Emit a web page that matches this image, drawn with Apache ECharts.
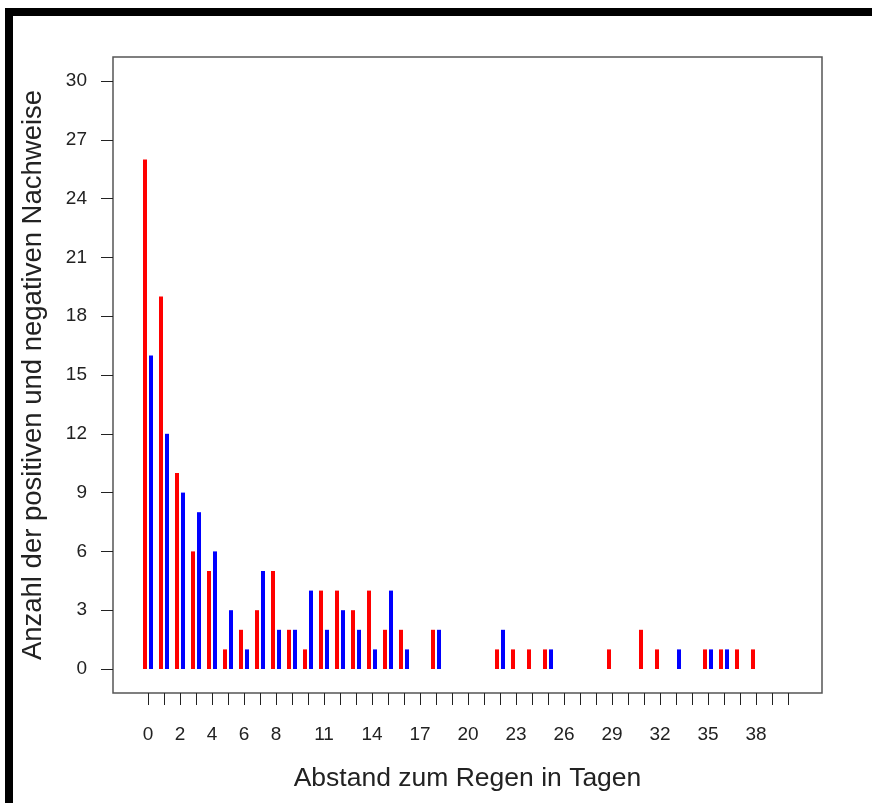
<!DOCTYPE html>
<html>
<head>
<meta charset="utf-8">
<script src="https://cdn.jsdelivr.net/npm/echarts@6/dist/echarts.min.js"></script>
<style>
html,body{margin:0;padding:0;background:#fff;}
#chart{width:872px;height:803px;}
</style>
</head>
<body>
<div id="chart"></div>
<script>
// Days 0..40
const days = Array.from({length: 41}, (_, i) => i);
// Red series (positive)
const redValues = [26,19,10,6,5,1,2,3,5,2,1,4,4,3,4,2,2,0,2,0,0,0,1,1,1,1,0,0,0,1,0,2,1,0,0,1,1,1,1,0,0];
// Blue series (negative)
const blueValues = [16,12,9,8,6,3,1,5,2,2,4,2,3,2,1,4,1,0,2,0,0,0,2,0,0,1,0,0,0,0,0,0,0,1,0,1,1,0,0,0,0];
const xTickLabels = [0,2,4,6,8,11,14,17,20,23,26,29,32,35,38];
const yTicks = [0,3,6,9,12,15,18,21,24,27,30];

const font = 'Liberation Sans, Arial, sans-serif';
const chart = echarts.init(document.getElementById('chart'), null, {renderer: 'canvas'});
chart.setOption({
  backgroundColor: '#ffffff',
  animation: false,
  graphic: [
    {type: 'rect', shape: {x: 5, y: 8, width: 867, height: 8}, style: {fill: '#000'}},
    {type: 'rect', shape: {x: 5, y: 8, width: 8, height: 795}, style: {fill: '#000'}}
  ],
  grid: {left: 113, right: 50, top: 57, bottom: 110, show: true, borderColor: '#555', borderWidth: 1.5, backgroundColor: 'transparent'},
  xAxis: {
    type: 'value', min: -2.1875, max: 42.125,
    axisLine: {show: false, onZero: false},
    splitLine: {show: false},
    axisTick: {show: true, customValues: days, length: 12, lineStyle: {color: '#222', width: 1}},
    axisLabel: {customValues: xTickLabels, margin: 32, fontSize: 19, fontFamily: font, color: '#222'},
    name: 'Abstand zum Regen in Tagen', nameLocation: 'middle', nameGap: 72,
    nameTextStyle: {fontSize: 26.5, fontFamily: font, color: '#222'}
  },
  yAxis: {
    type: 'value', min: -1.2245, max: 31.2245,
    axisLine: {show: false, onZero: false},
    splitLine: {show: false},
    axisTick: {show: true, customValues: yTicks, length: 12, lineStyle: {color: '#222', width: 1}},
    axisLabel: {customValues: yTicks, margin: 26, fontSize: 19, fontFamily: font, color: '#222'},
    name: 'Anzahl der positiven und negativen Nachweise', nameLocation: 'middle', nameGap: 66,
    nameTextStyle: {fontSize: 27.5, fontFamily: font, color: '#222'}
  },
  series: [
    {type: 'bar', name: 'positiv', data: days.map((d, i) => [d, redValues[i]]), barWidth: 4, barGap: '50%', itemStyle: {color: '#ff0000'}},
    {type: 'bar', name: 'negativ', data: days.map((d, i) => [d, blueValues[i]]), barWidth: 4, barGap: '50%', itemStyle: {color: '#0000ff'}}
  ]
});
</script>
</body>
</html>
